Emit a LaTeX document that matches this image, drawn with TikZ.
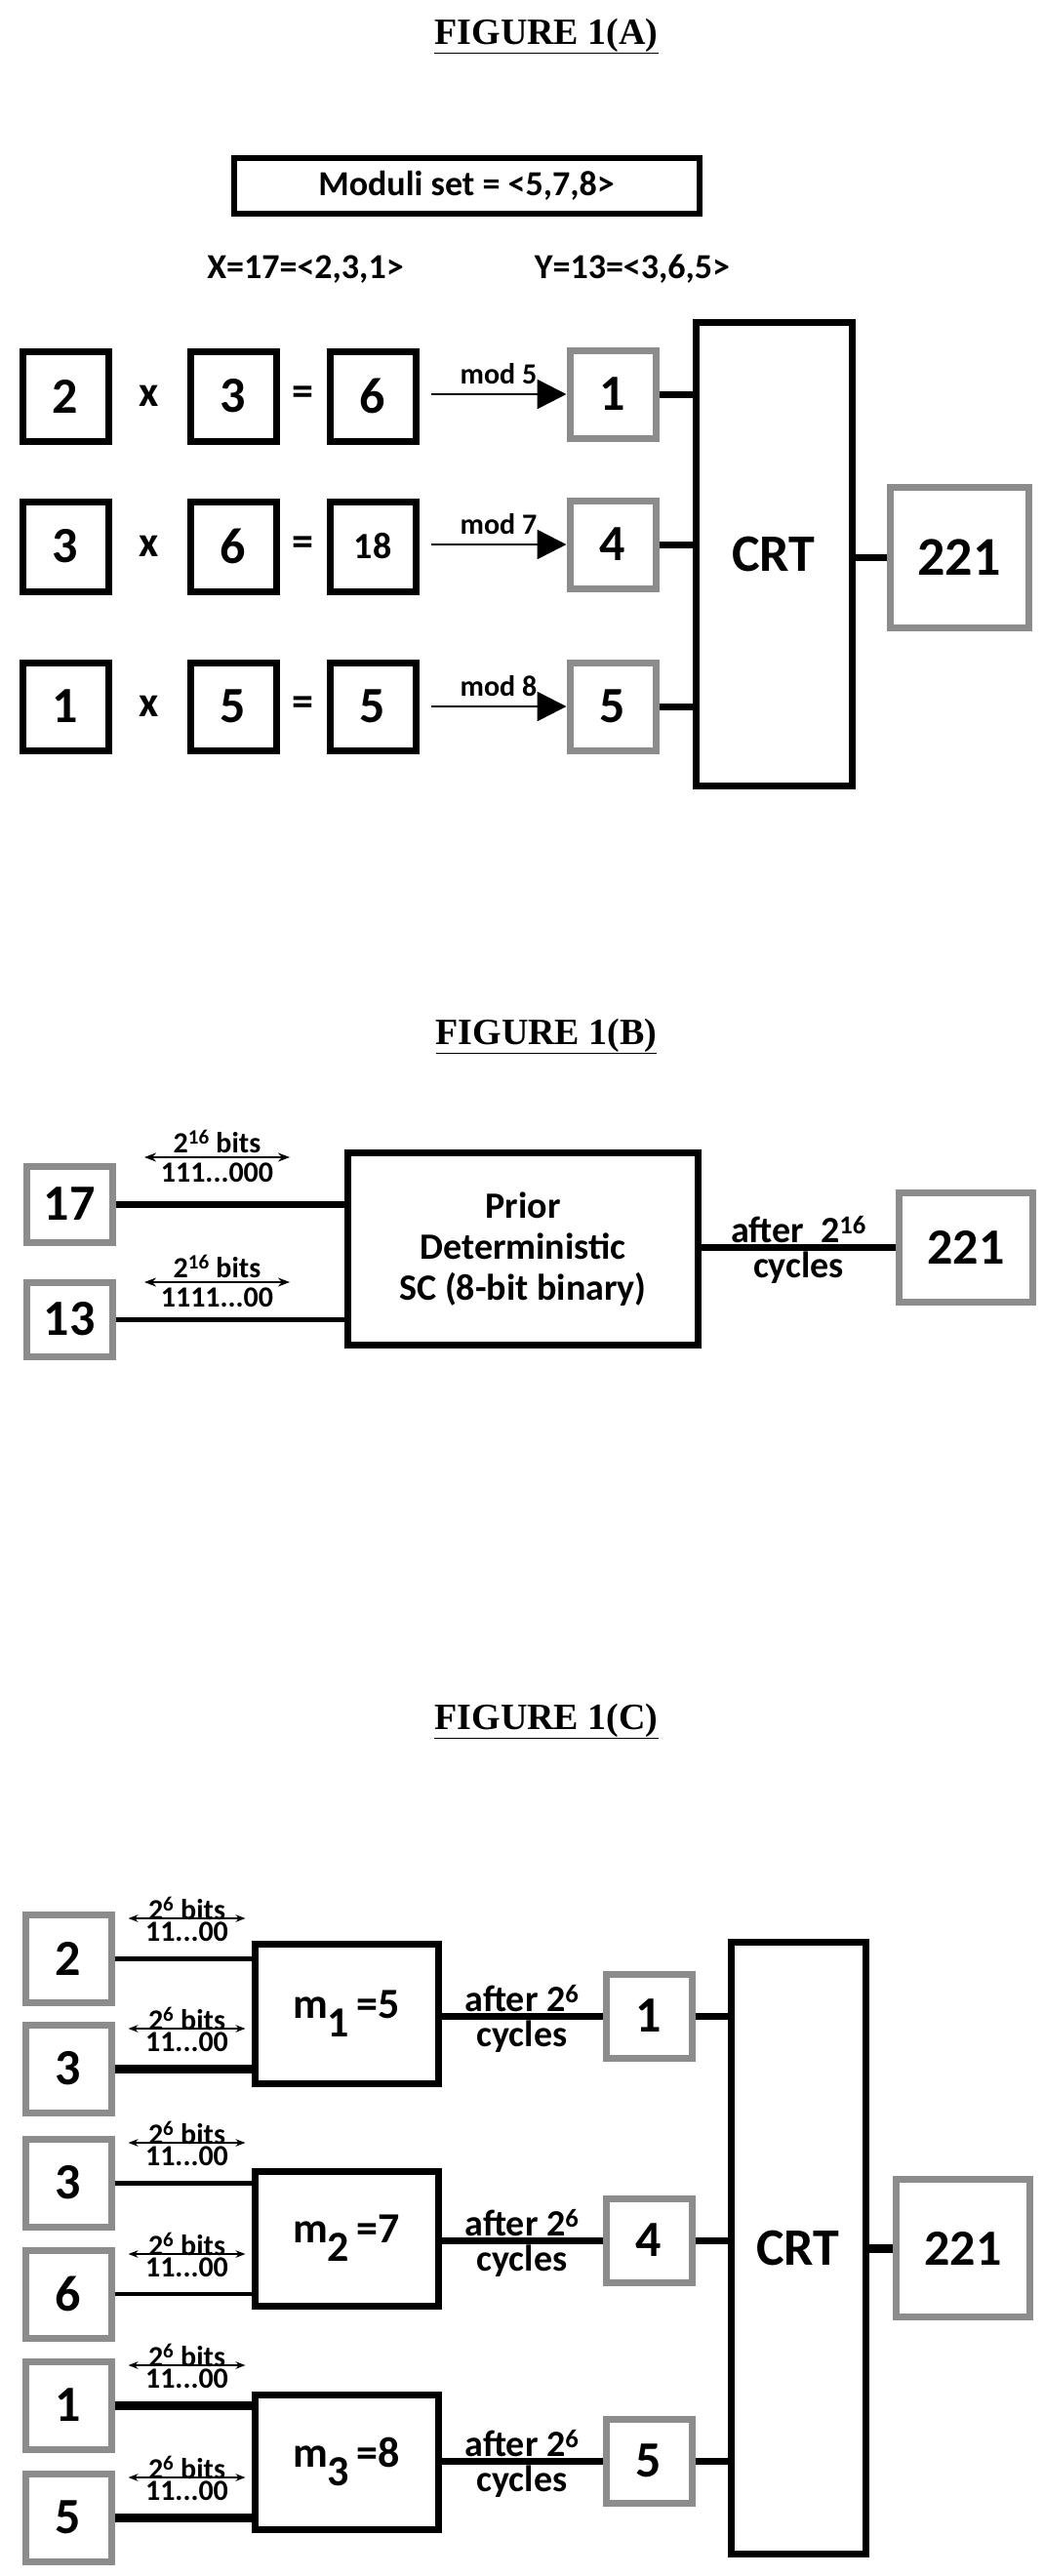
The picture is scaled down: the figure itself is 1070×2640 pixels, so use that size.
\documentclass[tikz,border=0pt]{standalone}
\usepackage{fontspec}
\setmainfont{Carlito}
\newfontfamily\titlefont{Liberation Serif}
\usetikzlibrary{positioning, arrows.meta, calc}

\begin{document}
\begin{tikzpicture}
    [
      x=1pt, y=-1pt,
      BOX/.style={rectangle, draw=black, line width=7pt, fill=white, minimum width=88pt, minimum height=90pt, inner sep=0pt, font=\bfseries\fontsize{52}{56}\selectfont},
      GREYBOX/.style={BOX, draw=black!45},
      BIGBOX/.style={rectangle, draw=black, line width=7pt, fill=white, inner sep=0pt, align=center},
      LINE/.style={line width=7pt, black},
      THIN/.style={line width=2.5pt, black},
      TITLE/.style={font=\titlefont\bfseries\fontsize{38}{42}\selectfont},
      SMALL/.style={font=\bfseries\fontsize{30}{32}\selectfont, inner sep=1pt},
      MID/.style={font=\bfseries\fontsize{38}{42}\selectfont, align=center, inner sep=1pt},
      OP/.style={font=\bfseries\fontsize{44}{48}\selectfont},
    ]
    \useasboundingbox (0,0) rectangle (1070,2640);

    % FIGURE 1(A)
    \node[TITLE] (titleA) at (560,37) {\underline{FIGURE 1(A)}};
    \node[BIGBOX, line width=6pt, minimum width=477pt, minimum height=57pt, font=\bfseries\fontsize{36}{40}\selectfont] (moduli) at (478,190) {Moduli set = <5,7,8>};
    \node[MID, font=\bfseries\fontsize{36}{40}\selectfont] (xVal) at (313,276) {X=17=<2,3,1>};
    \node[MID, font=\bfseries\fontsize{36}{40}\selectfont] (yVal) at (648,276) {Y=13=<3,6,5>};

    \node[BOX, minimum height=92pt] (aX1) at (67,406) {2};
    \node[BOX, minimum height=92pt] (aY1) at (239,406) {3};
    \node[BOX, minimum height=92pt] (aP1) at (382,406) {6};
    \node[GREYBOX] (aR1) at (628,404) {1};
    \node[BOX, minimum height=92pt] (aX2) at (67,560) {3};
    \node[BOX, minimum height=92pt] (aY2) at (239,560) {6};
    \node[BOX, minimum height=92pt, font=\bfseries\fontsize{38}{42}\selectfont] (aP2) at (382,560) {18};
    \node[GREYBOX] (aR2) at (628,558) {4};
    \node[BOX, minimum height=90pt] (aX3) at (67,724) {1};
    \node[BOX, minimum height=90pt] (aY3) at (239,724) {5};
    \node[BOX, minimum height=90pt] (aP3) at (382,724) {5};
    \node[GREYBOX] (aR3) at (628,724) {5};
    \foreach \r in {1,2,3} {
      \node[OP] at ($(aX\r)!0.5!(aY\r)$) {x};
      \node[OP] at ($(aY\r)!0.5!(aP\r)$) {=};
    }
    \node[BIGBOX, minimum width=160pt, minimum height=475pt, font=\bfseries\fontsize{54}{58}\selectfont] (crtA) at (793,568) {CRT};
    \node[GREYBOX, minimum width=142pt, minimum height=144pt, font=\bfseries\fontsize{56}{60}\selectfont] (outA) at (983,571) {221};

    \draw[-{Triangle[length=30pt, width=30pt]}, THIN] ($(aR1.west -| aP1.east)+(12,0)$) -- node[above=8pt, SMALL] {mod 5} (aR1.west);
    \draw[-{Triangle[length=30pt, width=30pt]}, THIN] ($(aR2.west -| aP2.east)+(12,0)$) -- node[above=8pt, SMALL] {mod 7} (aR2.west);
    \draw[-{Triangle[length=30pt, width=30pt]}, THIN] ($(aR3.west -| aP3.east)+(12,0)$) -- node[above=8pt, SMALL] {mod 8} (aR3.west);
    \draw[LINE] (aR1.east) -- (aR1.east -| crtA.west);
    \draw[LINE] (aR2.east) -- (aR2.east -| crtA.west);
    \draw[LINE] (aR3.east) -- (aR3.east -| crtA.west);
    \draw[LINE] (crtA.east |- outA.west) -- (outA.west);

    % FIGURE 1(B)
    \node[TITLE] (titleB) at (560,1062) {\underline{FIGURE 1(B)}};
    \node[GREYBOX, minimum height=78pt] (b17) at (71,1234) {17};
    \node[GREYBOX, minimum height=76pt] (b13) at (71,1352) {13};
    \node[BIGBOX, minimum width=359pt, minimum height=197pt, MID] (prior) at (536,1280) {Prior\\Deterministic\\SC (8-bit binary)};
    \node[GREYBOX, minimum width=137pt, minimum height=112pt] (outB) at (990,1278) {221};
    \draw[LINE] (b17.east) -- (b17.east -| prior.west);
    \draw[LINE, line width=5pt] (b13.east) -- (b13.east -| prior.west);
    \draw[LINE] (prior.east |- outB.west) -- node[above, MID] {after \ 2\textsuperscript{16}} node[below, MID] {cycles} (outB.west);
    \coordinate (bitsL1) at (148,1186);
    \coordinate (bitsR1) at (297,1186);
    \draw[{Stealth[length=12pt]}-{Stealth[length=12pt]}, THIN] (bitsL1) -- node[above=2pt, SMALL] {2\textsuperscript{16} bits} node[below=4pt, SMALL] {111...000} (bitsR1);
    \coordinate (bitsL2) at (148,1314);
    \coordinate (bitsR2) at (297,1314);
    \draw[{Stealth[length=12pt]}-{Stealth[length=12pt]}, THIN] (bitsL2) -- node[above=2pt, SMALL] {2\textsuperscript{16} bits} node[below=4pt, SMALL] {1111...00} (bitsR2);

    % FIGURE 1(C)
    \node[TITLE] (titleC) at (560,1764) {\underline{FIGURE 1(C)}};
    \node[GREYBOX] (c1) at (70,2007) {2};
    \node[GREYBOX] (c2) at (70,2120) {3};
    \node[GREYBOX] (c3) at (70,2237) {3};
    \node[GREYBOX] (c4) at (70,2351) {6};
    \node[GREYBOX] (c5) at (70,2465) {1};
    \node[GREYBOX] (c6) at (70,2580) {5};
    \node[BIGBOX, minimum width=188pt, minimum height=143pt, OP] (m1) at (355,2064) {m\raisebox{-0.9ex}{1}\,=5};
    \node[BIGBOX, minimum width=188pt, minimum height=138pt, OP] (m2) at (355,2294) {m\raisebox{-0.9ex}{2}\,=7};
    \node[BIGBOX, minimum width=188pt, minimum height=138pt, OP] (m3) at (355,2523) {m\raisebox{-0.9ex}{3}\,=8};
    \node[GREYBOX, minimum height=86pt] (cR1) at (665,2066) {1};
    \node[GREYBOX, minimum height=86pt] (cR2) at (665,2296) {4};
    \node[GREYBOX, minimum height=86pt] (cR3) at (665,2522) {5};
    \node[BIGBOX, minimum width=138pt, minimum height=627pt, font=\bfseries\fontsize{54}{58}\selectfont] (crtC) at (818,2304) {CRT};
    \node[GREYBOX, minimum width=137pt, minimum height=141pt] (outC) at (987,2304) {221};

    \draw[LINE, line width=5pt] (c1.east) -- (c1.east -| m1.west);
    \draw[LINE, line width=9pt] (c2.east) -- (c2.east -| m1.west);
    \draw[LINE, line width=5pt] (c3.east) -- (c3.east -| m2.west);
    \draw[LINE, line width=4pt] (c4.east) -- (c4.east -| m2.west);
    \draw[LINE, line width=9pt] (c5.east) -- (c5.east -| m3.west);
    \draw[LINE, line width=9pt] (c6.east) -- (c6.east -| m3.west);
    \foreach \i in {1,...,6} {
      \draw[{Stealth[length=10pt]}-{Stealth[length=10pt]}, THIN] ($(c\i.east)+(14,-41)$) -- node[above=-4pt, SMALL] {2\textsuperscript{6} bits} node[below=2pt, SMALL] {11...00} ($(c\i.east)+(134,-41)$);
    }
    \draw[LINE] (m1.east |- cR1.west) -- node[above, MID] {after 2\textsuperscript{6}} node[below, MID] {cycles} (cR1.west);
    \draw[LINE] (m2.east |- cR2.west) -- node[above, MID] {after 2\textsuperscript{6}} node[below, MID] {cycles} (cR2.west);
    \draw[LINE] (m3.east |- cR3.west) -- node[above, MID] {after 2\textsuperscript{6}} node[below, MID] {cycles} (cR3.west);
    \draw[LINE] (cR1.east) -- (cR1.east -| crtC.west);
    \draw[LINE] (cR2.east) -- (cR2.east -| crtC.west);
    \draw[LINE] (cR3.east) -- (cR3.east -| crtC.west);
    \draw[LINE, line width=9pt] (crtC.east |- outC.west) -- (outC.west);

  \end{tikzpicture}
\end{document}
